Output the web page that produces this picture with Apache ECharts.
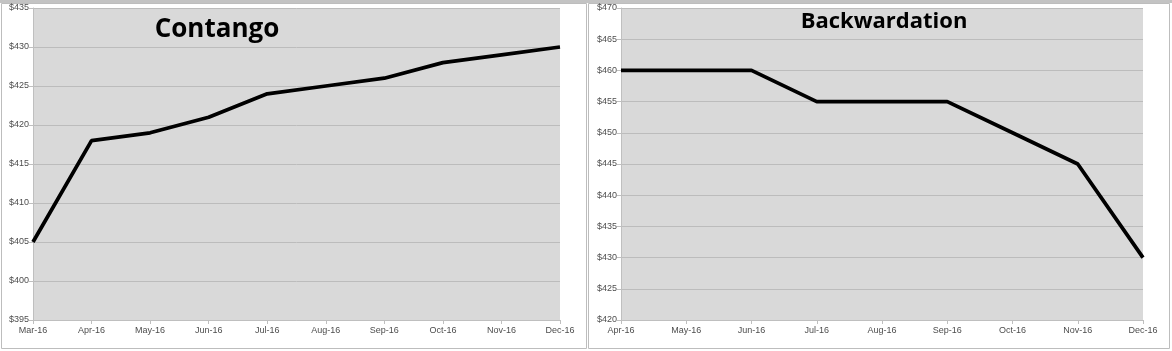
<!DOCTYPE html>
<html><head><meta charset="utf-8">
<script src="https://cdn.jsdelivr.net/npm/echarts@6/dist/echarts.min.js"></script>
<style>html,body{margin:0;padding:0;background:#fff}#c{width:1172px;height:351px}</style>
</head><body><div id="c"></div>
<script>
const contangoMonths = ['Mar-16','Apr-16','May-16','Jun-16','Jul-16','Aug-16','Sep-16','Oct-16','Nov-16','Dec-16'];
const contangoValues = [405,418,419,421,424,425,426,428,429,430];
const backMonths = ['Apr-16','May-16','Jun-16','Jul-16','Aug-16','Sep-16','Oct-16','Nov-16','Dec-16'];
const backValues = [460,460,460,455,455,455,450,445,430];
const titles = ['Contango','Backwardation'];

const chart = echarts.init(document.getElementById('c'));
const axisLbl = {color:'#4d4d4d', fontSize:9, fontFamily:'Liberation Sans'};
const gridLine = {show:true, lineStyle:{color:'#bcbcbc', width:1}};
function xAxis(idx, data){
  return {type:'category', gridIndex:idx, data:data, boundaryGap:false,
    axisLine:{lineStyle:{color:'#bfbfbf'}}, axisTick:{show:true, length:4, lineStyle:{color:'#bfbfbf'}},
    axisLabel:Object.assign({margin:6, interval:0}, axisLbl), splitLine:{show:false}};
}
function yAxis(idx, min, max){
  return {type:'value', gridIndex:idx, min:min, max:max, interval:5,
    axisLine:{show:true, lineStyle:{color:'#bfbfbf'}}, axisTick:{show:true, length:4, lineStyle:{color:'#bfbfbf'}},
    axisLabel:Object.assign({margin:4, formatter:v=>'$'+v}, axisLbl), splitLine:gridLine};
}
chart.setOption({
  animation:false,
  graphic:[
    {type:'rect', shape:{x:0,y:0,width:1172,height:3}, style:{fill:'#c3c3c3'}, z:-1},
    {type:'rect', shape:{x:1.5,y:3.5,width:585,height:345}, style:{fill:'none', stroke:'#bdbdbd', lineWidth:1}},
    {type:'rect', shape:{x:588.5,y:3.5,width:581,height:345}, style:{fill:'none', stroke:'#bdbdbd', lineWidth:1}}
  ],
  title:[
    {text:titles[0], left:212, top:12, textAlign:'center', textStyle:{fontFamily:'Open Sans', fontWeight:'bold', fontSize:26, color:'#000'}},
    {text:titles[1], left:879, top:6, textAlign:'center', textStyle:{fontFamily:'Open Sans', fontWeight:'bold', fontSize:22, color:'#000'}}
  ],
  grid:[
    {left:33, top:8, width:527, height:312, show:true, backgroundColor:'#d9d9d9', borderWidth:0},
    {left:621, top:8, width:522, height:312, show:true, backgroundColor:'#d9d9d9', borderWidth:0}
  ],
  xAxis:[xAxis(0, contangoMonths), xAxis(1, backMonths)],
  yAxis:[yAxis(0, 395, 435), yAxis(1, 420, 470)],
  series:[
    {type:'line', xAxisIndex:0, yAxisIndex:0, data:contangoValues, showSymbol:false, lineStyle:{color:'#000', width:3.75}},
    {type:'line', xAxisIndex:1, yAxisIndex:1, data:backValues, showSymbol:false, lineStyle:{color:'#000', width:3.75}}
  ]
});
</script></body></html>
